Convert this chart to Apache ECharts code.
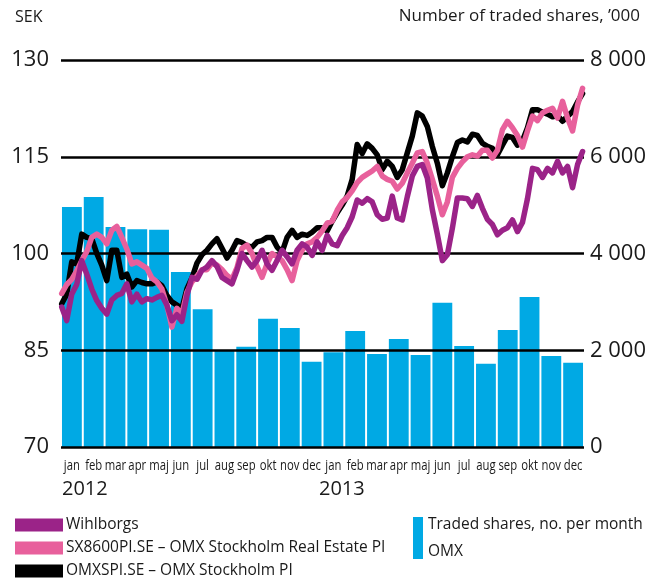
<!DOCTYPE html>
<html>
<head>
<meta charset="utf-8">
<script src="https://cdn.jsdelivr.net/npm/echarts@6/dist/echarts.min.js"></script>
<style>
html, body { margin: 0; padding: 0; background: #fff; }
#chart { width: 652px; height: 579px; }
</style>
</head>
<body>
<div id="chart"></div>
<script>
// månader (kategoriaxel för staplarna)
var months = ['jan','feb','mar','apr','maj','jun','jul','aug','sep','okt','nov','dec',
              'jan','feb','mar','apr','maj','jun','jul','aug','sep','okt','nov','dec'];
var years = ['2012', '2013'];

// omsatta aktier per månad, '000
var tradedShares = [4960, 5170, 4550, 4500, 4490, 3620, 2850, 2000, 2070, 2650, 2460, 1760,
                    1960, 2400, 1920, 2230, 1900, 2980, 2090, 1720, 2420, 3100, 1880, 1740];

// veckovärden, SEK, första veckan 2012-01-02
var firstWeek = Date.UTC(2012, 0, 2);
var omxspi = [92.2, 93.7, 98.7, 98.4, 103.0, 102.5, 102.3, 100.0, 98.2, 95.8,
              100.5, 100.5, 96.3, 96.8, 94.8, 95.8, 95.5, 95.3, 95.3, 95.6,
              95.0, 93.5, 92.5, 92.0, 91.5, 94.5, 96.2, 98.5, 99.8, 100.5,
              101.5, 102.3, 100.8, 99.3, 100.5, 102.0, 101.7, 101.2, 101.0, 101.8,
              102.0, 102.5, 102.5, 101.0, 100.2, 102.5, 103.6, 102.5, 103.0, 102.8,
              103.3, 104.0, 104.0, 103.5, 105.0, 106.3, 107.5, 108.9, 111.5, 116.9,
              115.5, 117.0, 116.3, 115.3, 113.0, 114.3, 113.5, 111.8, 113.0, 115.6,
              118.2, 121.8, 121.3, 119.7, 116.6, 114.0, 110.5, 112.5, 115.0, 117.2,
              117.6, 117.3, 118.5, 118.3, 117.1, 116.6, 116.3, 115.3, 116.8, 118.2,
              118.0, 116.8, 117.5, 119.5, 122.3, 122.3, 121.9, 121.6, 121.2, 121.4,
              120.5, 121.3, 122.0, 123.5, 124.8];
var realEstate = [93.8, 95.2, 96.0, 97.3, 98.9, 100.3, 102.5, 103.0, 102.5, 101.5,
                  103.6, 104.2, 102.5, 100.7, 98.4, 98.7, 98.2, 97.7, 96.2, 95.6,
                  94.5, 92.0, 88.6, 91.5, 90.6, 94.0, 95.6, 96.5, 97.5, 97.5,
                  98.5, 98.2, 97.5, 96.6, 96.0, 97.8, 100.8, 101.3, 100.0, 98.0,
                  96.3, 98.4, 100.0, 99.5, 98.9, 97.5, 95.8, 98.9, 100.5, 101.5,
                  101.8, 102.5, 103.5, 104.7, 105.0, 106.7, 108.0, 108.7, 109.7, 111.0,
                  111.8, 112.3, 112.8, 113.5, 112.0, 111.5, 111.2, 110.0, 110.9, 112.5,
                  114.0, 115.6, 115.8, 114.0, 111.5, 108.9, 106.0, 108.0, 111.8, 113.2,
                  114.2, 115.0, 115.3, 115.1, 116.0, 116.0, 114.8, 116.0, 119.2, 120.5,
                  119.5, 118.3, 116.5, 119.0, 121.3, 120.6, 121.8, 122.2, 122.5, 121.0,
                  123.6, 121.0, 119.0, 123.0, 125.6];
var wihlborgs = [91.7, 89.6, 93.7, 95.2, 98.9, 96.8, 94.5, 92.7, 91.5, 90.6,
                 92.8, 93.5, 93.8, 95.3, 92.5, 93.7, 92.5, 93.0, 92.8, 93.2,
                 93.5, 92.0, 89.6, 90.5, 89.5, 93.5, 96.3, 96.0, 97.4, 97.9,
                 98.9, 98.0, 96.3, 95.8, 95.3, 97.4, 100.0, 98.9, 97.9, 98.9,
                 100.5, 98.4, 97.4, 98.9, 100.5, 99.5, 98.4, 100.5, 101.5, 101.0,
                 99.7, 101.8, 100.5, 102.8, 101.5, 101.2, 102.8, 104.0, 105.7, 108.3,
                 107.8, 108.5, 108.0, 106.0, 105.3, 105.5, 108.9, 105.5, 105.2, 108.8,
                 112.0, 113.5, 113.8, 111.7, 106.8, 103.0, 98.9, 99.8, 103.9, 108.6,
                 108.6, 108.5, 107.3, 109.0, 107.0, 105.3, 104.5, 102.9, 103.6, 104.0,
                 105.2, 103.4, 104.8, 108.5, 113.2, 113.0, 111.8, 113.2, 112.5, 114.3,
                 112.5, 113.5, 110.2, 113.8, 115.8];

var nameW = 'Wihlborgs';
var nameRE = 'SX8600PI.SE \u2013 OMX Stockholm Real Estate PI';
var nameOMX = 'OMXSPI.SE \u2013 OMX Stockholm PI';
var nameBar = 'Traded shares, no. per month\nOMX';

function weekly(values) {
    var out = [];
    for (var i = 0; i < values.length; i++) {
        out.push([firstWeek + i * 7 * 86400000, values[i]]);
    }
    return out;
}

var font = "'Open Sans', 'Noto Sans', sans-serif";
var ink = '#1a1a1a';

function lineLegend(name, top) {
    return {
        data: [name],
        left: 15,
        top: top,
        padding: 0,
        icon: 'rect',
        itemWidth: 48,
        itemHeight: 13,
        textStyle: { fontSize: 15.5, fontFamily: font, color: ink, lineHeight: 13, padding: [0, 0, 0, -2] }
    };
}

var myChart = echarts.init(document.getElementById('chart'));
var option = {
    animation: false,
    backgroundColor: '#fff',
    grid: { left: 61, right: 68, top: 60, bottom: 132 },
    graphic: [
        { type: 'text', left: 15, top: 9, style: { text: 'SEK', fontSize: 16, fontFamily: font, fill: ink } },
        { type: 'text', right: 12, top: 8, style: { text: 'Number of traded shares, \u2019000', fontSize: 17, fontFamily: font, fill: ink } },
        { type: 'text', left: 62, top: 479, style: { text: years[0], fontSize: 20, fontFamily: font, fill: ink } },
        { type: 'text', left: 319, top: 479, style: { text: years[1], fontSize: 20, fontFamily: font, fill: ink } }
    ],
    legend: [
        lineLegend(nameW, 517),
        lineLegend(nameRE, 540),
        lineLegend(nameOMX, 563),
        {
            data: [nameBar],
            left: 413,
            top: 511,
            padding: 0,
            icon: 'rect',
            itemWidth: 10,
            itemHeight: 42,
            textStyle: { fontSize: 15.5, fontFamily: font, color: ink, lineHeight: 27 }
        }
    ],
    xAxis: [{
        type: 'category',
        data: months,
        axisLine: { show: false },
        axisTick: { show: false },
        axisLabel: { show: false }   // smala månadsetiketter ritas nedan
    }, {
        type: 'time',
        show: false,
        min: Date.UTC(2012, 0, 1),
        max: Date.UTC(2014, 0, 1)
    }],
    yAxis: [{
        type: 'value',
        min: 70,
        max: 130,
        interval: 15,
        z: 3,
        axisLine: { show: false },
        axisTick: { show: false },
        axisLabel: { fontSize: 22, fontFamily: font, color: ink, margin: 12 },
        splitLine: { show: true, lineStyle: { color: '#000', width: 2.5 } }
    }, {
        type: 'value',
        min: 0,
        max: 8000,
        interval: 2000,
        axisLine: { show: false },
        axisTick: { show: false },
        splitLine: { show: false },
        axisLabel: {
            fontSize: 22, fontFamily: font, color: ink, margin: 6,
            formatter: function (v) { return v === 0 ? '0' : String(v).replace(/(\d)(?=(\d{3})+$)/, '$1 '); }
        }
    }],
    series: [{
        name: nameBar,
        type: 'bar',
        xAxisIndex: 0,
        yAxisIndex: 1,
        barCategoryGap: '9%',
        itemStyle: { color: '#00A9E4' },
        z: 2,
        data: tradedShares
    }, {
        name: nameOMX,
        type: 'line',
        xAxisIndex: 1,
        yAxisIndex: 0,
        showSymbol: false,
        z: 5,
        lineStyle: { color: '#000', width: 5.5, cap: 'round', join: 'round' },
        itemStyle: { color: '#000' },
        data: weekly(omxspi)
    }, {
        name: nameRE,
        type: 'line',
        xAxisIndex: 1,
        yAxisIndex: 0,
        showSymbol: false,
        z: 6,
        lineStyle: { color: '#E8609C', width: 5.5, cap: 'round', join: 'round' },
        itemStyle: { color: '#E8609C' },
        data: weekly(realEstate)
    }, {
        name: nameW,
        type: 'line',
        xAxisIndex: 1,
        yAxisIndex: 0,
        showSymbol: false,
        z: 7,
        lineStyle: { color: '#9B2388', width: 5.5, cap: 'round', join: 'round' },
        itemStyle: { color: '#9B2388' },
        data: weekly(wihlborgs)
    }]
};
myChart.setOption(option);

// månadsetiketter: hoptryckt text (scaleX) placerad via kategoriaxeln
var labelY = myChart.convertToPixel({ yAxisIndex: 0 }, 70) + 19;
var monthTexts = [];
for (var i = 0; i < months.length; i++) {
    monthTexts.push({
        type: 'text',
        x: myChart.convertToPixel({ xAxisIndex: 0 }, i),
        y: labelY,
        scaleX: 0.78,
        style: { text: months[i], fontSize: 14.5, fontFamily: font, fill: ink, align: 'center', verticalAlign: 'middle' }
    });
}
option.graphic = option.graphic.concat(monthTexts);
myChart.setOption(option);
</script>
</body>
</html>
